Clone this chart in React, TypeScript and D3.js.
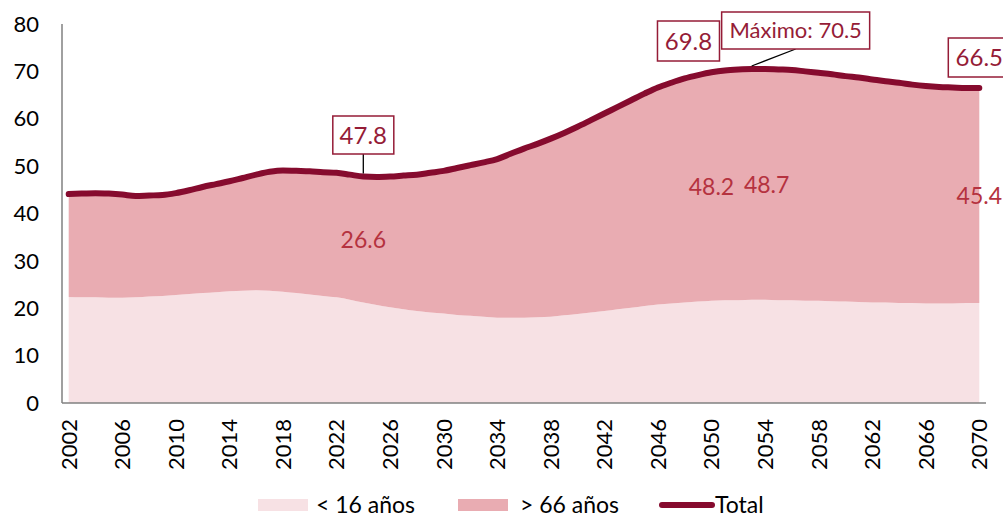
import React from 'react'
import * as d3 from 'd3'

// years on the category axis
const years = d3.range(2002, 2071)
const tickYears = years.filter((y) => (y - 2002) % 4 === 0)
const yTicks = [0, 10, 20, 30, 40, 50, 60, 70, 80]

// < 16 años (dependency ratio, young)
const under16 = [
  22.4, 22.3, 22.3, 22.2, 22.2, 22.3, 22.5, 22.6, 22.8, 23.0,
  23.2, 23.4, 23.6, 23.7, 23.8, 23.7, 23.5, 23.2, 22.9, 22.6,
  22.3, 21.8, 21.2, 20.7, 20.2, 19.8, 19.4, 19.1, 18.9, 18.6,
  18.4, 18.2, 18.0, 18.0, 18.0, 18.1, 18.2, 18.5, 18.8, 19.1,
  19.4, 19.8, 20.1, 20.5, 20.8, 21.0, 21.2, 21.4, 21.6, 21.7,
  21.7, 21.8, 21.8, 21.7, 21.7, 21.6, 21.6, 21.5, 21.4, 21.3,
  21.2, 21.2, 21.1, 21.1, 21.0, 21.0, 21.0, 21.1, 21.1,
]

// Total
const total = [
  44.1, 44.2, 44.3, 44.2, 44.0, 43.7, 43.8, 43.9, 44.3, 44.9,
  45.6, 46.2, 46.8, 47.5, 48.2, 48.8, 49.1, 49.0, 48.9, 48.7,
  48.6, 48.2, 47.8, 47.7, 47.8, 48.0, 48.2, 48.6, 49.0, 49.6,
  50.2, 50.8, 51.5, 52.6, 53.7, 54.7, 55.8, 57.0, 58.3, 59.7,
  61.1, 62.5, 63.9, 65.3, 66.6, 67.6, 68.5, 69.2, 69.8, 70.2,
  70.4, 70.5, 70.5, 70.4, 70.3, 70.0, 69.7, 69.4, 69.0, 68.7,
  68.3, 67.9, 67.6, 67.2, 66.9, 66.7, 66.6, 66.5, 66.5,
]

// labelled points
const boxLabels = [
  {year: 2024, text: '47.8', w: 61, h: 38, dx: 0, top: 116},
  {year: 2050, text: '69.8', w: 62, h: 40, dx: -23, top: 21},
  {year: 2053, text: 'Máximo: 70.5', w: 148, h: 37, dx: 44, top: 12},
  {year: 2070, text: '66.5', w: 62, h: 39, dx: 0, top: 38},
]
const over66Labels = [
  {year: 2024, text: '26.6', dx: 0},
  {year: 2050, text: '48.2', dx: 0},
  {year: 2053, text: '48.7', dx: 15},
  {year: 2070, text: '45.4', dx: 0},
]

const W = 1003
const H = 517
const FONT = 'Lato, "Open Sans", sans-serif'
const C_YOUNG = '#f7e1e4'
const C_OLD = '#e9acb2'
const C_LINE = '#860b2e'
const C_BOX = '#951c37'
const C_INNER = '#b5323f'

export default function App() {
  const x = d3.scalePoint<number>().domain(years).range([62, 986]).padding(0.5)
  const y = d3.scaleLinear().domain([0, 80]).range([403, 24])

  const rows = years.map((yr, i) => ({
    year: yr,
    young: under16[i],
    old: +(total[i] - under16[i]).toFixed(1),
  }))
  const series = d3.stack<any>().keys(['young', 'old'])(rows)
  const curve = d3.curveMonotoneX

  const area = d3
    .area<any>()
    .x((d) => x(d.data.year)!)
    .y0((d) => y(d[0]))
    .y1((d) => y(d[1]))
    .curve(curve)

  const line = d3
    .line<number>()
    .x((d, i) => x(years[i])!)
    .y((d) => y(d))
    .curve(curve)

  const idx = (yr: number) => years.indexOf(yr)

  return (
    <div style={{position: 'absolute', left: 0, top: 0}}>
      <svg width={W} height={H} style={{display: 'block', fontFamily: FONT}}>
        <rect width={W} height={H} fill="#fff" />
        {series.map((s, i) => (
          <path key={s.key} d={area(s) || ''} fill={i === 0 ? C_YOUNG : C_OLD} />
        ))}
        <path
          d={line(total) || ''}
          fill="none"
          stroke={C_LINE}
          strokeWidth={6}
          strokeLinecap="round"
          strokeLinejoin="round"
        />

        {/* axes */}
        <line x1={62} x2={62} y1={y(80)} y2={y(0)} stroke="#808080" strokeWidth={1.5} />
        <line x1={62} x2={986} y1={y(0)} y2={y(0)} stroke="#808080" strokeWidth={1.5} />
        {yTicks.map((t) => (
          <text key={t} x={39} y={y(t)} dy="0.35em" textAnchor="end" fontSize={22} fill="#000">
            {t}
          </text>
        ))}
        {tickYears.map((yr) => (
          <text
            key={yr}
            transform={`translate(${x(yr)},${419}) rotate(-90)`}
            dy="0.36em"
            textAnchor="end"
            fontSize={22}
            fill="#000"
          >
            {yr}
          </text>
        ))}

        {/* values of > 66 años, centred in their band */}
        {over66Labels.map((l) => {
          const i = idx(l.year)
          return (
            <text
              key={l.text}
              x={x(l.year)! + l.dx}
              y={y((under16[i] + total[i]) / 2)}
              dy="0.36em"
              textAnchor="middle"
              fontSize={23}
              fill={C_INNER}
            >
              {l.text}
            </text>
          )
        })}

        {/* boxed labels on the total line */}
        {boxLabels.map((l) => {
          const px = x(l.year)!
          const py = y(total[idx(l.year)])
          const cx = px + l.dx
          const bottom = l.top + l.h
          const leader = l.year === 2024 || l.text.startsWith('Máximo')
          return (
            <g key={l.text}>
              {leader && (
                <line x1={px} y1={py - 3} x2={cx} y2={bottom} stroke="#000" strokeWidth={1.3} />
              )}
              <rect
                x={cx - l.w / 2}
                y={l.top}
                width={l.w}
                height={l.h}
                fill="#fff"
                stroke={C_BOX}
                strokeWidth={1.5}
              />
              <text
                x={cx}
                y={l.top + l.h / 2}
                dy="0.36em"
                textAnchor="middle"
                fontSize={l.text.length > 5 ? 22 : 24}
                fill={C_BOX}
              >
                {l.text}
              </text>
            </g>
          )
        })}

        {/* legend */}
        <rect x={258} y={499} width={50} height={12} fill={C_YOUNG} />
        <text x={316} y={505} dy="0.36em" fontSize={23} fill="#000">
          &lt; 16 años
        </text>
        <rect x={458} y={499} width={50} height={12} fill={C_OLD} />
        <text x={520} y={505} dy="0.36em" fontSize={23} fill="#000">
          &gt; 66 años
        </text>
        <line x1={662} x2={712} y1={505} y2={505} stroke={C_LINE} strokeWidth={6} strokeLinecap="round" />
        <text x={715} y={505} dy="0.36em" fontSize={23} fill="#000">
          Total
        </text>
      </svg>
    </div>
  )
}
